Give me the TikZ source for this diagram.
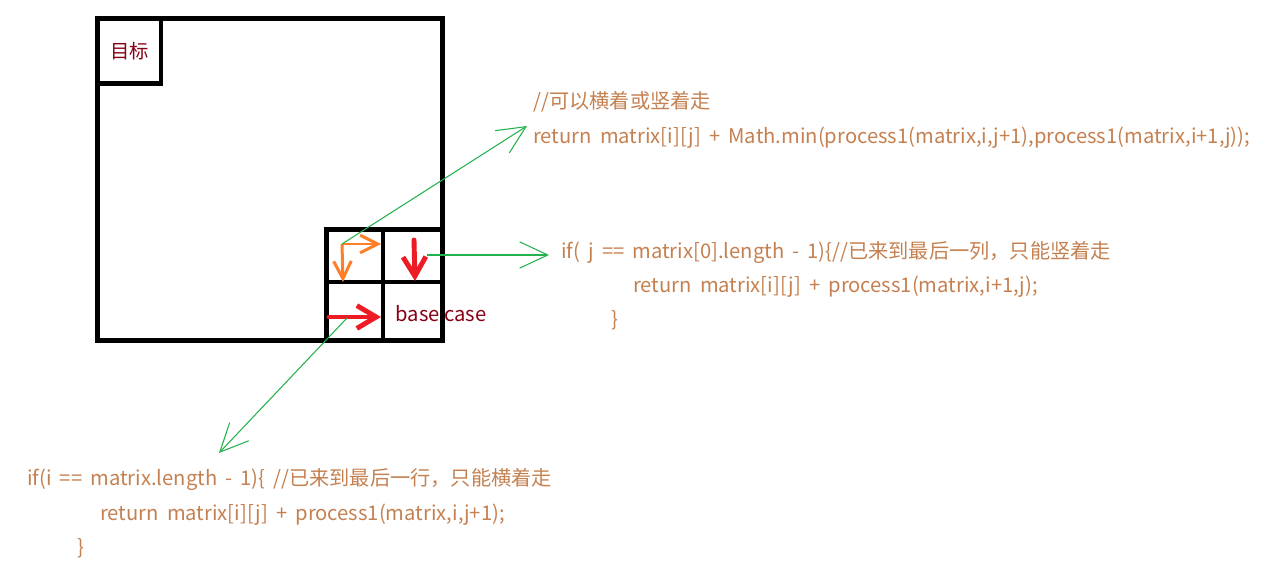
\documentclass[tikz,border=0pt]{standalone}
\usepackage{fontspec}
\setmainfont{Noto Sans CJK SC}
\usetikzlibrary{arrows.meta}
\definecolor{codebrown}{RGB}{196,128,80}
\definecolor{darkred}{RGB}{136,0,21}
\definecolor{paintred}{RGB}{237,28,36}
\definecolor{paintorange}{RGB}{255,127,39}
\definecolor{paintgreen}{RGB}{34,177,76}
\newcommand{\codefont}{\fontsize{11.5}{13}\selectfont\spaceskip=0.4em\relax}

\begin{document}
\begin{tikzpicture}[x=0.02cm,y=-0.02cm]
\tikzstyle{box}=[rectangle,draw,line width=2.8pt,inner sep=0pt]
\tikzstyle{code}=[anchor=base west,inner sep=0pt,text=codebrown,font=\codefont]
\tikzstyle{link}=[draw=paintgreen,line width=0.6pt,-{Straight Barb[length=16pt,width=15pt,line width=0.6pt]}]
\tikzstyle{move}=[draw=paintorange,line width=1.7pt,-{Straight Barb[length=10pt,width=10pt,line width=1.7pt]}]
\tikzstyle{force}=[draw=paintred,line width=2.8pt,line cap=round,-{Straight Barb[length=11pt,width=13pt,line width=2.8pt]}]
 \useasboundingbox (0,0) rectangle (1264,564);
 % the whole matrix and the goal cell
 \node[box, minimum width=6.9cm, minimum height=6.44cm] (matrix) at (270,179.5) {};
 \node[box, minimum width=1.26cm, minimum height=1.3cm, text=darkred, font=\fontsize{11}{13}\selectfont] (goal) at (129.5,51) {目标};
 % last two rows and columns
 \node[box, minimum width=1.13cm, minimum height=1.05cm] (c11) at (354.75,255.75) {};
 \node[box, minimum width=1.18cm, minimum height=1.05cm] (c12) at (412.5,255.75) {};
 \node[box, minimum width=1.13cm, minimum height=1.16cm] (c21) at (354.75,311) {};
 \node[box, minimum width=1.18cm, minimum height=1.16cm] (c22) at (412.5,311) {};
 \node[text=darkred, font=\fontsize{11.5}{13}\selectfont, inner sep=0pt] (basecase) at (441,314) {base case};

 % moves inside the cells
 \coordinate (turn) at (342,244);
 \coordinate (right) at (381,244);
 \coordinate (down) at (343,282);
 \draw [move] (turn) -- (right);
 \draw [move] (turn) -- (down);
 \coordinate (lasttop) at (414,240);
 \coordinate (lastbot) at (415,281);
 \draw [force] (lasttop) -- (lastbot);
 \coordinate (rowleft) at (329,317);
 \coordinate (rowright) at (381,317);
 \draw [force] (rowleft) -- (rowright);

 % code
 \node[code] (general) at (533,109) {//可以横着或竖着走};
 \node[code] (generalret) at (533,144) {return matrix[i][j] + Math.min(process1(matrix,i,j+1),process1(matrix,i+1,j));};
 \node[code] (lastcol) at (561,258) {if( j == matrix[0].length - 1)\{//已来到最后一列，只能竖着走};
 \node[code] (lastcolret) at (633,293) {return matrix[i][j] + process1(matrix,i+1,j);};
 \node[code] (lastcolend) at (611,326) {\}};
 \node[code] (lastrow) at (27,485) {if(i == matrix.length - 1)\{ //已来到最后一行，只能横着走};
 \node[code] (lastrowret) at (100,520) {return matrix[i][j] + process1(matrix,i,j+1);};
 \node[code] (lastrowend) at (77,554) {\}};

 % pointers to the code
 \coordinate (tip1) at (527,126);
 \coordinate (from2) at (427,255);
 \coordinate (tip2) at (549,255);
 \coordinate (from3) at (347,318);
 \coordinate (tip3) at (219,453);
 \draw [link] (turn) -- (tip1);
 \draw [link] (from2) -- (tip2);
 \draw [link] (from3) -- (tip3);
\end{tikzpicture}
\end{document}
